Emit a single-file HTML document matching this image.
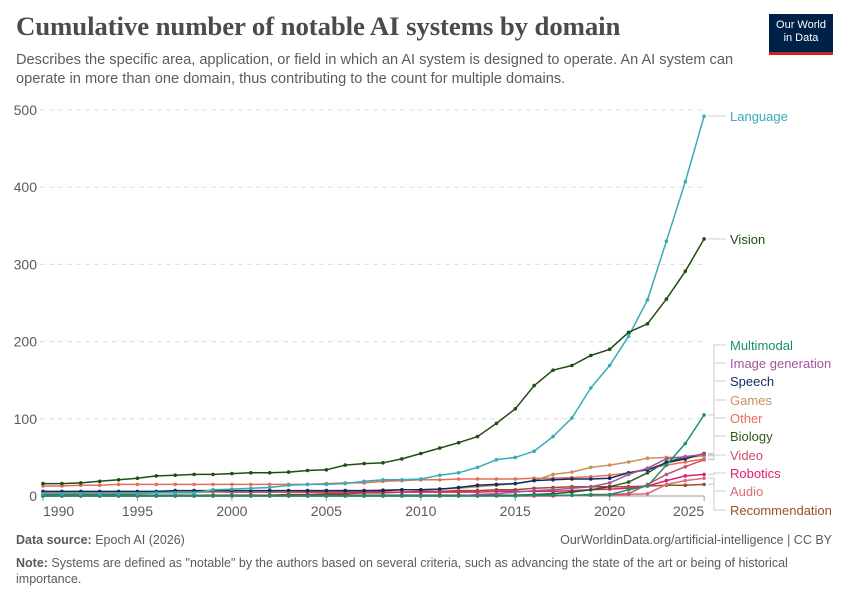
<!DOCTYPE html>
<html><head><meta charset="utf-8"><style>
body{margin:0;width:850px;height:600px;background:#fff;font-family:"Liberation Sans",sans-serif;overflow:hidden;position:relative}
.t{position:absolute;left:16px;top:11px;font-family:"Liberation Serif",serif;font-size:26.8px;font-weight:bold;color:#4b4b4b;letter-spacing:-0.1px}
.s{position:absolute;left:16px;top:51px;font-size:14.6px;color:#5b5b5b;line-height:19px;width:740px}
.logo{position:absolute;left:769px;top:14px;width:64px;height:38px;background:#002147;color:#fff;font-size:11px;text-align:center;line-height:13px;padding-top:5px;box-sizing:border-box}
.logo:after{content:"";position:absolute;left:0;bottom:-3px;width:64px;height:3px;background:#ce261e}
.f{position:absolute;font-size:12.5px;color:#5b5b5b}
</style></head><body>
<div class="t">Cumulative number of notable AI systems by domain</div>
<div class="s">Describes the specific area, application, or field in which an AI system is designed to operate. An AI system can operate in more than one domain, thus contributing to the count for multiple domains.</div>
<div class="logo">Our World<br>in Data</div>
<svg id="c" width="850" height="600" style="position:absolute;left:0;top:0"></svg>
<div class="f" style="left:16px;top:533px"><b>Data source:</b> Epoch AI (2026)</div>
<div class="f" style="right:18px;top:533px">OurWorldinData.org/artificial-intelligence | CC BY</div>
<div class="f" style="left:16px;top:555px;line-height:16px;width:800px"><b>Note:</b> Systems are defined as "notable" by the authors based on several criteria, such as advancing the state of the art or being of historical importance.</div>
<script>
var s=document.getElementById('c'),h='';
function X(y){return 43+(y-1990)*18.89}
function Y(v){return 496-v*0.772}
for(var g=0;g<=500;g+=100){h+='<line x1="40" x2="705" y1="'+Y(g)+'" y2="'+Y(g)+'" stroke="#ddd" stroke-dasharray="5,4"/>';
h+='<text x="37" y="'+(Y(g)+5)+'" text-anchor="end" font-size="14" fill="#5b5b5b">'+g+'</text>';}
h+='<line x1="43" x2="704" y1="496" y2="496" stroke="#999"/>';
var yrs=[1990,1995,2000,2005,2010,2015,2020,2025];
yrs.forEach(function(y,i){var a=i==0?'start':i==7?'end':'middle';h+='<line x1="'+X(y)+'" x2="'+X(y)+'" y1="496" y2="501" stroke="#999"/><text x="'+X(y)+'" y="516" text-anchor="'+a+'" font-size="14" fill="#5b5b5b">'+y+'</text>';});
var S=[
["Recommendation","#9a5129",[0,0,0,0,0,0,0,0,0,0,1,1,1,2,2,3,3,4,4,5,6,6,7,7,8,8,10,11,12,12,12,12,13,14,14,15],510],
["Audio","#d66f78",[1,1,1,1,1,1,1,1,1,1,1,1,1,1,1,1,1,1,1,1,1,1,1,1,1,1,1,1,1,1,1,2,3,15,20,23],491],
["Robotics","#e01e73",[5,5,5,5,5,5,5,5,5,5,5,5,5,5,5,5,5,5,5,5,5,5,5,5,6,6,6,6,7,8,9,10,13,20,26,28],473],
["Video","#c8506a",[0,0,0,0,0,0,0,0,0,0,0,0,0,0,0,0,0,0,0,0,0,0,0,0,0,0,0,0,1,1,2,3,15,28,38,47],455],
["Biology","#2b5a1e",[1,1,1,1,1,1,1,1,1,1,1,1,1,1,1,1,1,1,1,1,1,1,1,1,1,1,2,3,5,8,12,18,30,44,50,53],436],
["Other","#e56e5a",[13,13,14,14,15,15,15,15,15,15,15,15,15,15,15,16,17,17,19,20,21,21,22,22,22,22,23,23,24,25,27,30,35,40,44,48],418],
["Games","#c8915f",[4,4,4,4,4,5,5,5,5,5,6,6,6,6,7,7,7,7,8,8,8,9,10,12,14,16,20,28,31,37,40,44,49,50,50,52],400],
["Speech","#0d2c5f",[6,6,6,6,6,6,6,7,7,7,7,7,7,7,7,7,7,7,7,8,8,9,11,14,15,16,20,21,22,22,23,30,34,43,48,55],381],
["Image generation","#a2559c",[0,0,0,0,0,0,0,0,0,0,0,0,0,0,0,0,0,0,0,0,0,0,0,2,3,5,7,8,10,12,17,28,36,48,51,54],363],
["Multimodal","#18926e",[0,0,0,0,0,0,0,0,0,0,0,0,0,0,0,0,0,0,0,0,0,0,0,0,0,0,1,1,1,2,2,8,13,40,68,105],345],
["Language","#38aaba",[3,3,3,3,3,3,4,4,4,8,9,10,11,14,15,15,16,19,21,21,22,27,30,37,47,50,58,77,101,140,169,207,254,330,407,492],116],
["Vision","#1f4d14",[16,16,17,19,21,23,26,27,28,28,29,30,30,31,33,34,40,42,43,48,55,62,69,77,94,113,143,163,169,182,190,212,223,255,291,333],239]];
S.forEach(function(r){var p=r[2].map(function(v,i){return X(1990+i).toFixed(1)+','+Y(v).toFixed(1)});
h+='<polyline points="'+p.join(' ')+'" fill="none" stroke="'+r[1]+'" stroke-width="1.5"/>';
p.forEach(function(q){var c=q.split(',');h+='<circle cx="'+c[0]+'" cy="'+c[1]+'" r="1.8" fill="'+r[1]+'"/>';});
var ly=Y(r[2][35]),ty=r[3];
h+='<polyline points="708,'+ly+' 714,'+ly+' 714,'+ty+' 726,'+ty+'" fill="none" stroke="#ccc"/>';
h+='<text x="730" y="'+(ty+5)+'" font-size="13" fill="'+r[1]+'">'+r[0]+'</text>';});
s.innerHTML=h;
</script>
</body></html>
